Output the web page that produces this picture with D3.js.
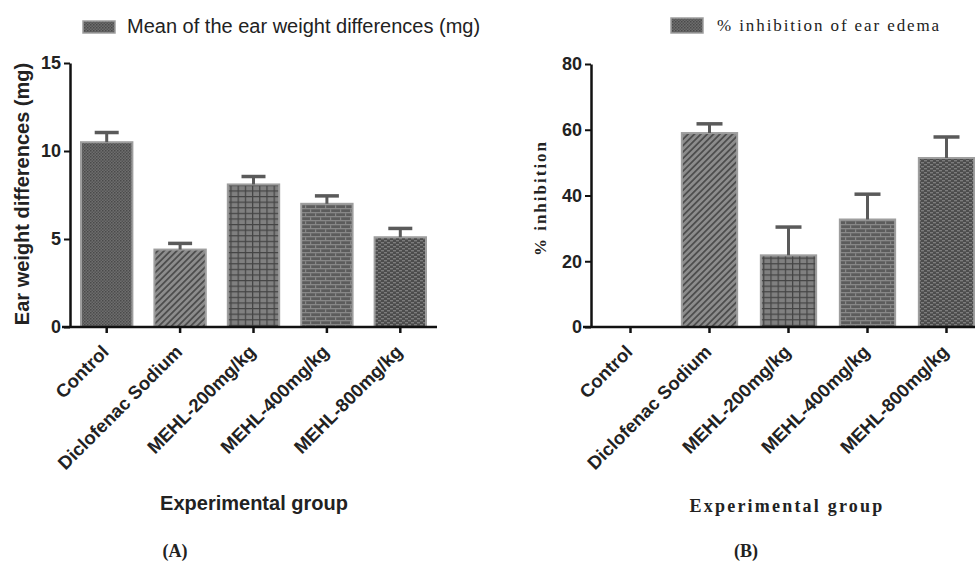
<!DOCTYPE html>
<html>
<head>
<meta charset="utf-8">
<script src="https://cdn.jsdelivr.net/npm/d3@7"></script>
<style>
  body { margin: 0; background: #fff; }
  svg text { fill: #222; }
  .sans { font-family: "Liberation Sans", Arial, sans-serif; }
  .serif { font-family: "Liberation Serif", "Times New Roman", serif; }
</style>
</head>
<body>
<div id="container"></div>
<script>
const groups = ["Control", "Diclofenac Sodium", "MEHL-200mg/kg", "MEHL-400mg/kg", "MEHL-800mg/kg"];

// (A) mean ear weight differences (mg) and error
const earWeightMeans = [10.5, 4.4, 8.1, 7.0, 5.1];
const earWeightErrors = [0.55, 0.35, 0.45, 0.45, 0.5];
const earWeightTicks = [0, 5, 10, 15];

// (B) % inhibition of ear edema and error
const inhibitionMeans = [0, 59.0, 21.8, 32.7, 51.4];
const inhibitionErrors = [0, 2.8, 8.6, 7.7, 6.4];
const inhibitionTicks = [0, 20, 40, 60, 80];

const patternIds = ["pDots", "pDiag", "pGrid", "pBrick", "pWeave"];

const svg = d3.select("#container")
  .append("svg")
  .attr("width", 975)
  .attr("height", 562);

const defs = svg.append("defs");

// dotted texture
let p = defs.append("pattern").attr("id", "pDots").attr("patternUnits", "userSpaceOnUse")
  .attr("width", 3).attr("height", 3);
p.append("rect").attr("width", 3).attr("height", 3).attr("fill", "#6e6e6e");
p.append("rect").attr("width", 1.5).attr("height", 1.5).attr("fill", "#4a4a4a");
p.append("rect").attr("x", 1.5).attr("y", 1.5).attr("width", 1.5).attr("height", 1.5).attr("fill", "#535353");

// diagonal hatch
p = defs.append("pattern").attr("id", "pDiag").attr("patternUnits", "userSpaceOnUse")
  .attr("width", 4.5).attr("height", 4.5).attr("patternTransform", "rotate(45)");
p.append("rect").attr("width", 4.5).attr("height", 4.5).attr("fill", "#8c8c8c");
p.append("rect").attr("width", 1.8).attr("height", 4.5).attr("fill", "#4e4e4e");

// grid
p = defs.append("pattern").attr("id", "pGrid").attr("patternUnits", "userSpaceOnUse")
  .attr("width", 7.2).attr("height", 5.6);
p.append("rect").attr("width", 7.2).attr("height", 5.6).attr("fill", "#808080");
p.append("rect").attr("width", 7.2).attr("height", 1.2).attr("fill", "#444");
p.append("rect").attr("width", 1.2).attr("height", 5.6).attr("fill", "#444");

// brick
p = defs.append("pattern").attr("id", "pBrick").attr("patternUnits", "userSpaceOnUse")
  .attr("width", 10).attr("height", 8);
p.append("rect").attr("width", 10).attr("height", 8).attr("fill", "#5c5c5c");
p.append("rect").attr("y", 0).attr("width", 10).attr("height", 1.3).attr("fill", "#888");
p.append("rect").attr("y", 4).attr("width", 10).attr("height", 1.3).attr("fill", "#888");
p.append("rect").attr("x", 0).attr("y", 1.3).attr("width", 1.2).attr("height", 2.7).attr("fill", "#888");
p.append("rect").attr("x", 5).attr("y", 5.3).attr("width", 1.2).attr("height", 2.7).attr("fill", "#888");

// dense weave
p = defs.append("pattern").attr("id", "pWeave").attr("patternUnits", "userSpaceOnUse")
  .attr("width", 6).attr("height", 4);
p.append("rect").attr("width", 6).attr("height", 4).attr("fill", "#4c4c4c");
p.append("rect").attr("x", 0).attr("y", 0).attr("width", 3).attr("height", 1.4).attr("fill", "#7c7c7c");
p.append("rect").attr("x", 3).attr("y", 2).attr("width", 3).attr("height", 1.4).attr("fill", "#7c7c7c");

function drawPanel(opts) {
  const x = d3.scaleBand()
    .domain(groups)
    .range(opts.xRange)
    .paddingInner(0.3)
    .paddingOuter(0.15);

  const y = d3.scaleLinear()
    .domain([0, d3.max(opts.ticks)])
    .range(opts.yRange);

  const g = svg.append("g");
  const font = opts.serifTitles ? "serif" : "sans";

  // bars
  g.selectAll("rect.bar")
    .data(groups)
    .enter()
    .append("rect")
    .attr("class", "bar")
    .attr("x", (d) => x(d))
    .attr("width", x.bandwidth())
    .attr("y", (d, i) => y(opts.means[i]))
    .attr("height", (d, i) => y(0) - y(opts.means[i]))
    .attr("fill", (d, i) => `url(#${patternIds[i]})`)
    .attr("stroke", (d, i) => opts.means[i] > 0 ? "#9e9e9e" : "none")
    .attr("stroke-width", 2);

  // error bars (upper only)
  const withErr = groups.map((d, i) => i).filter((i) => opts.errors[i] > 0);
  const err = g.selectAll("g.err")
    .data(withErr)
    .enter()
    .append("g")
    .attr("class", "err");

  const cx = (i) => x(groups[i]) + x.bandwidth() / 2;
  const top = (i) => y(opts.means[i] + opts.errors[i]);

  err.append("line")
    .attr("x1", cx).attr("x2", cx)
    .attr("y1", (i) => y(opts.means[i]))
    .attr("y2", top)
    .attr("stroke", "#5a5a5a")
    .attr("stroke-width", 3);

  err.append("line")
    .attr("x1", (i) => cx(i) - opts.capHalf)
    .attr("x2", (i) => cx(i) + opts.capHalf)
    .attr("y1", top).attr("y2", top)
    .attr("stroke", "#5a5a5a")
    .attr("stroke-width", 3.5);

  // y axis
  const yAxis = g.append("g")
    .attr("transform", `translate(${opts.xRange[0]},0)`)
    .call(d3.axisLeft(y).tickValues(opts.ticks).tickSize(6).tickSizeOuter(0).tickPadding(3));
  yAxis.select(".domain").attr("stroke", "#111").attr("stroke-width", 2.5);
  yAxis.selectAll(".tick line").attr("stroke", "#111").attr("stroke-width", 2);
  yAxis.selectAll(".tick text")
    .attr("class", "sans")
    .style("font-size", "18px")
    .style("font-weight", "bold")
    .attr("fill", "#333");

  // x axis
  const xAxis = g.append("g")
    .attr("transform", `translate(0,${opts.yRange[0]})`)
    .call(d3.axisBottom(x).tickSize(6).tickSizeOuter(0).tickPadding(4));
  xAxis.select(".domain").attr("stroke", "#111").attr("stroke-width", 2.5)
    .attr("d", `M${opts.xRange[0] - 8},0H${opts.xRange[1]}`);
  xAxis.selectAll(".tick line").attr("stroke", "#111").attr("stroke-width", 2.5);
  xAxis.selectAll(".tick text")
    .attr("class", "sans")
    .style("font-size", "18.5px")
    .style("font-weight", "bold")
    .attr("fill", "#333")
    .attr("text-anchor", "end")
    .attr("dy", "0.35em")
    .attr("transform", "translate(0,20) rotate(-45)")
    .attr("x", -2)
    .attr("y", 0);

  // y axis title
  g.append("text")
    .attr("class", font)
    .attr("transform", `translate(${opts.yTitleX},${opts.yTitleY}) rotate(-90)`)
    .attr("text-anchor", "middle")
    .style("font-size", opts.yTitleSize)
    .style("font-weight", "bold")
    .style("letter-spacing", opts.serifTitles ? "2px" : "0px")
    .text(opts.yTitle);

  // x axis title
  g.append("text")
    .attr("class", font)
    .attr("x", opts.xTitleX)
    .attr("y", opts.xTitleY)
    .attr("text-anchor", "middle")
    .style("font-size", opts.xTitleSize)
    .style("font-weight", "bold")
    .style("letter-spacing", opts.serifTitles ? "2.2px" : "0px")
    .text("Experimental group");

  // legend
  g.append("rect")
    .attr("x", opts.legendX)
    .attr("y", opts.legendY)
    .attr("width", 32)
    .attr("height", opts.legendH)
    .attr("fill", "url(#pDots)")
    .attr("stroke", "#9e9e9e")
    .attr("stroke-width", 1.5);
  g.append("text")
    .attr("class", font)
    .attr("x", opts.legendTextX)
    .attr("y", opts.legendTextY)
    .style("font-size", opts.legendSize)
    .style("letter-spacing", opts.serifTitles ? "1.9px" : "0px")
    .text(opts.legendText);

  // panel label
  g.append("text")
    .attr("class", "serif")
    .attr("x", opts.panelX)
    .attr("y", opts.panelY)
    .attr("text-anchor", "middle")
    .style("font-size", "18px")
    .style("font-weight", "bold")
    .attr("fill", "#1a1a3a")
    .text(opts.panelLabel);
}

drawPanel({
  means: earWeightMeans,
  errors: earWeightErrors,
  ticks: earWeightTicks,
  xRange: [70, 437],
  yRange: [327, 63],
  capHalf: 12,
  yTitle: "Ear weight differences (mg)",
  yTitleX: 29,
  yTitleY: 194,
  yTitleSize: "20px",
  xTitleX: 254,
  xTitleY: 510,
  xTitleSize: "20px",
  legendX: 83,
  legendY: 21,
  legendH: 12,
  legendTextX: 127,
  legendTextY: 33,
  legendSize: "20px",
  legendText: "Mean of the ear weight differences (mg)",
  panelX: 175,
  panelY: 557,
  panelLabel: "(A)",
  serifTitles: false
});

drawPanel({
  means: inhibitionMeans,
  errors: inhibitionErrors,
  ticks: inhibitionTicks,
  xRange: [591, 986],
  yRange: [327, 64],
  capHalf: 13,
  yTitle: "% inhibition",
  yTitleX: 546,
  yTitleY: 198,
  yTitleSize: "17px",
  xTitleX: 787,
  xTitleY: 512,
  xTitleSize: "18px",
  legendX: 671,
  legendY: 18,
  legendH: 15,
  legendTextX: 717,
  legendTextY: 31,
  legendSize: "17px",
  legendText: "% inhibition of ear edema",
  panelX: 746,
  panelY: 557,
  panelLabel: "(B)",
  serifTitles: true
});
</script>
</body>
</html>
